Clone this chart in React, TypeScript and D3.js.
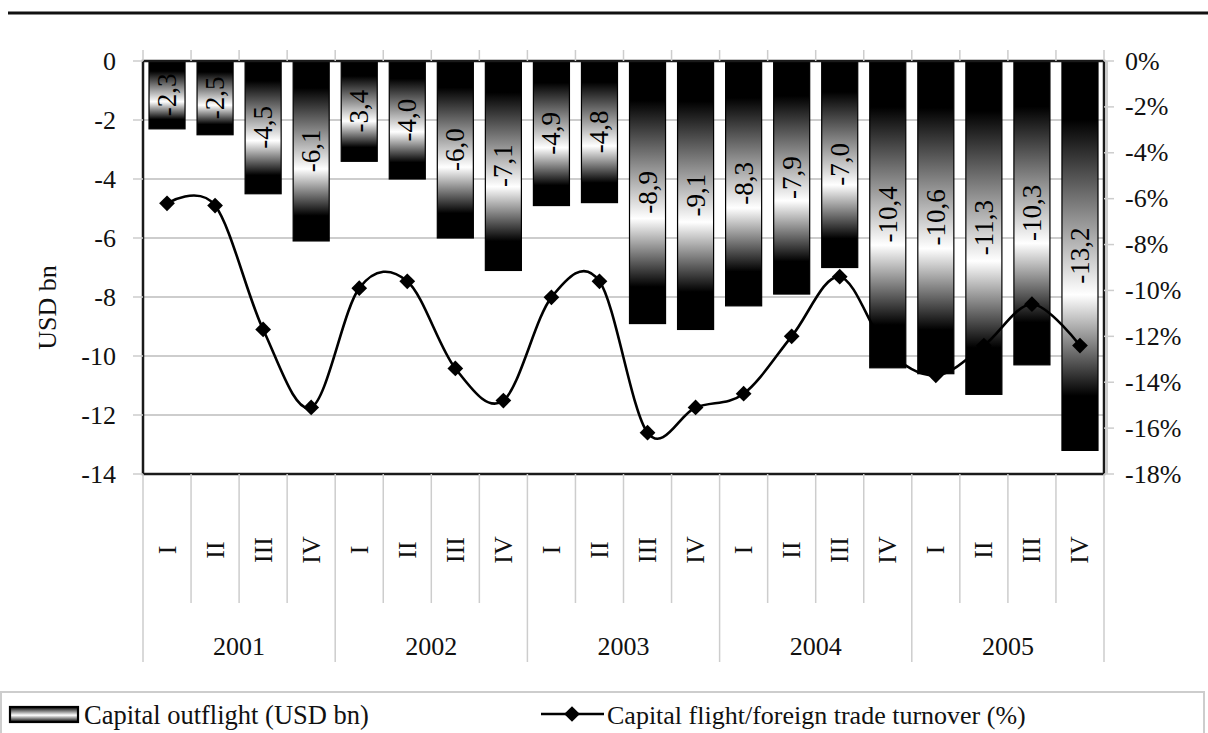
import React from "react";
import * as d3 from "d3";

const years = ["2001", "2002", "2003", "2004", "2005"];
const quarters = ["I", "II", "III", "IV"];
const outflight = [-2.3, -2.5, -4.5, -6.1, -3.4, -4.0, -6.0, -7.1, -4.9, -4.8, -8.9, -9.1, -8.3, -7.9, -7.0, -10.4, -10.6, -11.3, -10.3, -13.2];
const ratio = [-6.2, -6.3, -11.7, -15.1, -9.9, -9.6, -13.4, -14.8, -10.3, -9.6, -16.2, -15.1, -14.5, -12.0, -9.4, -12.6, -13.7, -12.4, -10.6, -12.4];
const leftTicks = [0, -2, -4, -6, -8, -10, -12, -14];
const rightTicks = [0, -2, -4, -6, -8, -10, -12, -14, -16, -18];
const legendBar = "Capital outflight (USD bn)";
const legendLine = "Capital flight/foreign trade turnover (%)";
const yTitle = "USD bn";

const W = 1208;
const H = 733;
const PL = 143, PR = 1104, PT = 61, PB = 474;
const FONT = "'Liberation Serif', 'Times New Roman', serif";
const GRID = "#cdcdcd";

export default function App() {
  const cats = years.flatMap((y) => quarters.map((q) => `${y}-${q}`));
  const x = d3.scaleBand<string>().domain(cats).range([PL, PR]).paddingInner(0.25).paddingOuter(0.125);
  const yL = d3.scaleLinear().domain([-14, 0]).range([PB, PT]);
  const yR = d3.scaleLinear().domain([-18, 0]).range([PB, PT]);
  const bw = x.bandwidth();
  const step = x.step();
  const half = (step - bw) / 2;
  const cx = (i: number) => (x(cats[i]) as number) + bw / 2;
  const bounds = d3.range(cats.length + 1).map((i) =>
    i < cats.length ? (x(cats[i]) as number) - half : (x(cats[cats.length - 1]) as number) + bw + half
  );

  const line = d3
    .line<number>()
    .x((_, i) => cx(i))
    .y((d) => yR(d))
    .curve(d3.curveCatmullRom.alpha(0));
  const diamond = d3.symbol(d3.symbolSquare, 124)();
  const fmt = (v: number) => v.toFixed(1).replace(".", ",");

  return (
    <svg
      width={W}
      height={H}
      style={{ position: "absolute", left: 0, top: 0, display: "block", background: "#fff" }}
      fontFamily={FONT}
    >
      <defs>
        <linearGradient id="barGrad" x1="0" y1="0" x2="0" y2="1">
          <stop offset="0" stopColor="#000" />
          <stop offset="0.15" stopColor="#000" />
          <stop offset="0.6" stopColor="#fff" />
          <stop offset="0.86" stopColor="#000" />
          <stop offset="1" stopColor="#000" />
        </linearGradient>
        <linearGradient id="legGrad" x1="0" y1="0" x2="0" y2="1">
          <stop offset="0" stopColor="#000" />
          <stop offset="0.55" stopColor="#fff" />
          <stop offset="1" stopColor="#000" />
        </linearGradient>
      </defs>
      <rect x={0} y={0} width={W} height={H} fill="#fff" />
      {/* top rule */}
      <line x1={8} x2={W} y1={13} y2={13} stroke="#111" strokeWidth={3} />

      {/* gridlines */}
      {leftTicks.map((t) => (
        <line key={"g" + t} x1={PL} x2={PR} y1={yL(t)} y2={yL(t)} stroke={GRID} strokeWidth={2} />
      ))}

      {/* bars */}
      {outflight.map((v, i) => (
        <rect
          key={"b" + i}
          x={x(cats[i])}
          y={yL(0)}
          width={bw}
          height={yL(v) - yL(0)}
          fill="url(#barGrad)"
          stroke="#000"
          strokeWidth={1.2}
        />
      ))}
      {outflight.map((v, i) => {
        const my = (yL(0) + yL(v)) / 2;
        return (
          <text
            key={"bl" + i}
            transform={`translate(${cx(i)},${my}) rotate(-90)`}
            textAnchor="middle"
            dominantBaseline="central"
            fontSize={27}
            fill="#000"
          >
            {fmt(v)}
          </text>
        );
      })}

      {/* line series */}
      <path d={line(ratio) || ""} fill="none" stroke="#000" strokeWidth={2.6} />
      {ratio.map((v, i) => (
        <path key={"m" + i} d={diamond || ""} transform={`translate(${cx(i)},${yR(v)}) rotate(45)`} fill="#000" />
      ))}

      {/* plot frame */}
      <rect x={PL} y={PT} width={PR - PL} height={PB - PT} fill="none" stroke="#1a1a1a" strokeWidth={2.5} />
      <line x1={PR + 3} x2={PR + 3} y1={PT} y2={PB} stroke="#9a9a9a" strokeWidth={1} />

      {/* top category ticks */}
      {bounds.map((b, i) => (
        <line key={"tt" + i} x1={b} x2={b} y1={PT - 11} y2={PT} stroke={GRID} strokeWidth={1.5} />
      ))}

      {/* left axis */}
      {leftTicks.map((t) => (
        <g key={"l" + t}>
          <line x1={PL - 10} x2={PL} y1={yL(t)} y2={yL(t)} stroke={GRID} strokeWidth={1.5} />
          <text x={116} y={yL(t)} textAnchor="end" dominantBaseline="central" fontSize={26} fill="#111">
            {t}
          </text>
        </g>
      ))}
      <text
        transform={`translate(47,${(PT + PB) / 2 + 40}) rotate(-90)`}
        textAnchor="middle"
        dominantBaseline="central"
        fontSize={26}
        fill="#111"
      >
        {yTitle}
      </text>

      {/* right axis */}
      {rightTicks.map((t) => (
        <g key={"r" + t}>
          <line x1={PR} x2={PR + 10} y1={yR(t)} y2={yR(t)} stroke={GRID} strokeWidth={1.5} />
          <text x={1125} y={yR(t)} textAnchor="start" dominantBaseline="central" fontSize={26} fill="#111">
            {t}%
          </text>
        </g>
      ))}

      {/* category axis (bottom, multi-level) */}
      {bounds.map((b, i) => (
        <line
          key={"sep" + i}
          x1={b}
          x2={b}
          y1={PB}
          y2={i % 4 === 0 ? 662 : 603}
          stroke={GRID}
          strokeWidth={1.5}
        />
      ))}
      {cats.map((c, i) => (
        <text
          key={"q" + c}
          transform={`translate(${cx(i)},550) rotate(-90)`}
          textAnchor="middle"
          dominantBaseline="central"
          fontSize={26}
          fill="#111"
        >
          {quarters[i % 4]}
        </text>
      ))}
      {years.map((y, k) => (
        <text
          key={"y" + y}
          x={(bounds[k * 4] + bounds[k * 4 + 4]) / 2}
          y={646}
          textAnchor="middle"
          dominantBaseline="central"
          fontSize={26}
          fill="#111"
        >
          {y}
        </text>
      ))}

      {/* legend */}
      <rect x={1} y={692} width={1203} height={50} fill="none" stroke={GRID} strokeWidth={2} />
      <rect x={10} y={707} width={68} height={15} fill="url(#legGrad)" stroke="#000" strokeWidth={2.2} />
      <text x={84} y={715} dominantBaseline="central" fontSize={26.5} fill="#111">
        {legendBar}
      </text>
      <line x1={541} x2={604} y1={714} y2={714} stroke="#000" strokeWidth={2.6} />
      <path d={diamond || ""} transform={`translate(572,714) rotate(45)`} fill="#000" />
      <text x={607} y={715} dominantBaseline="central" fontSize={26} fill="#111">
        {legendLine}
      </text>
    </svg>
  );
}
